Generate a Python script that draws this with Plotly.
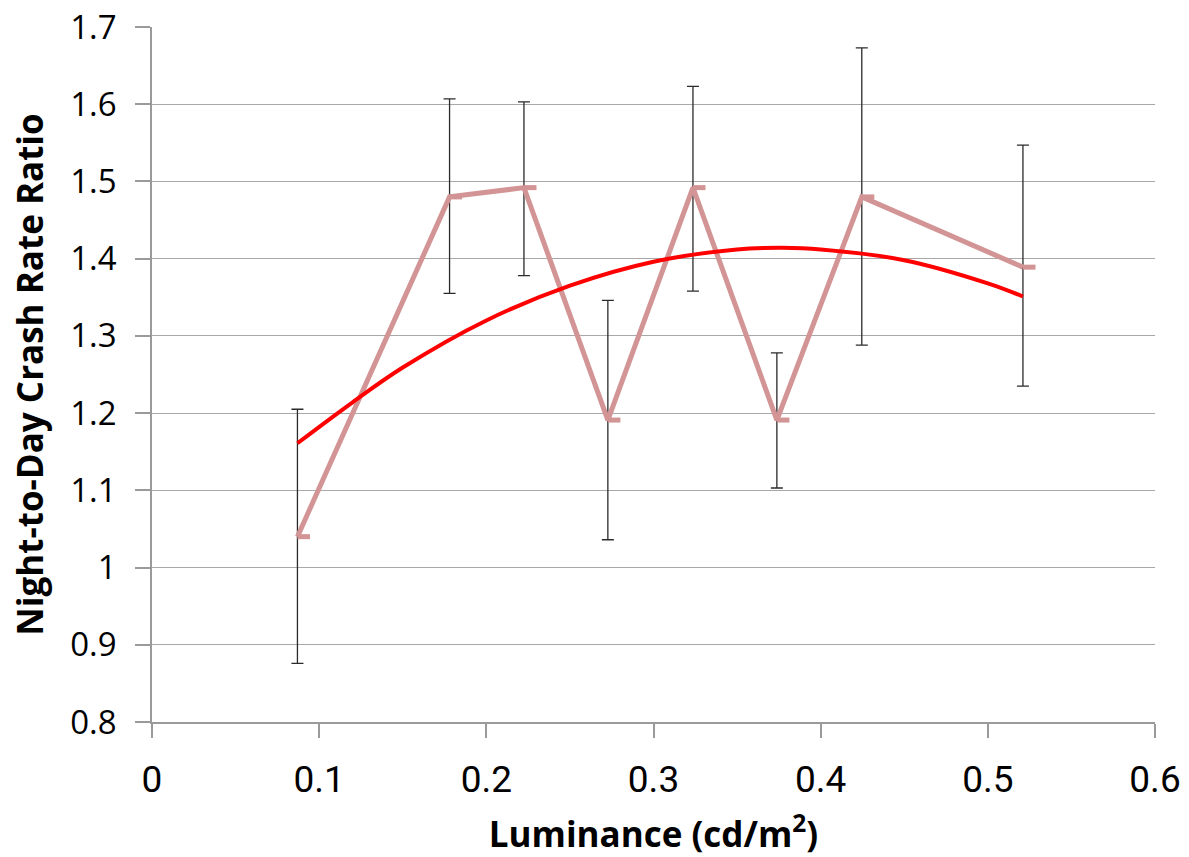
import plotly.graph_objects as go

# Measured night-to-day crash rate ratios by luminance bin
luminance = [0.087, 0.178, 0.2225, 0.2727, 0.3236, 0.3738, 0.4246, 0.521]
ratio = [1.040, 1.480, 1.492, 1.191, 1.492, 1.191, 1.480, 1.389]
ci_upper = [1.205, 1.607, 1.603, 1.346, 1.623, 1.278, 1.673, 1.547]
ci_lower = [0.876, 1.355, 1.378, 1.036, 1.358, 1.103, 1.288, 1.235]

# Polynomial trend curve values
trend_x = [0.087, 0.12, 0.15, 0.2, 0.25, 0.3, 0.35, 0.377, 0.4, 0.45, 0.5, 0.521]
trend_y = [1.161, 1.214, 1.259, 1.320, 1.365, 1.396, 1.412, 1.414, 1.412, 1.398, 1.368, 1.351]

x_ticks = [0, 0.1, 0.2, 0.3, 0.4, 0.5, 0.6]
y_ticks = [0.8, 0.9, 1.0, 1.1, 1.2, 1.3, 1.4, 1.5, 1.6, 1.7]

err_plus = [u - r for u, r in zip(ci_upper, ratio)]
err_minus = [r - l for r, l in zip(ratio, ci_lower)]

PINK = "#D29494"

fig = go.Figure()

fig.add_trace(go.Scatter(
    x=luminance, y=ratio, mode="lines",
    line=dict(color=PINK, width=5),
    error_y=dict(type="data", symmetric=False, array=err_plus, arrayminus=err_minus,
                 color="#2b2b2b", thickness=1.3, width=6),
    error_x=dict(type="data", symmetric=False, array=[0.0075] * len(luminance),
                 arrayminus=[0] * len(luminance), color=PINK, thickness=5, width=0),
    hoverinfo="x+y", showlegend=False,
))

fig.add_trace(go.Scatter(
    x=trend_x, y=trend_y, mode="lines",
    line=dict(color="#FF0000", width=4, shape="spline", smoothing=1.0),
    showlegend=False,
))

fig.update_layout(
    width=1189, height=857,
    margin=dict(l=152, r=34, t=27, b=135),
    paper_bgcolor="white", plot_bgcolor="white",
    font=dict(family="Open Sans, sans-serif", color="black"),
)

fig.update_xaxes(
    range=[0, 0.6], tickvals=x_ticks, ticktext=[f"{v:g}" for v in x_ticks],
    showgrid=False, zeroline=False, automargin=False,
    showline=True, linecolor="#9a9a9a", linewidth=1.5,
    ticks="outside", ticklen=14, tickcolor="#9a9a9a", tickwidth=1.5,
    ticklabelstandoff=10,
    tickfont=dict(family="Roboto, sans-serif", size=37),
    title=dict(text="<b>Luminance (cd/m<sup>2</sup>)</b>", standoff=22,
               font=dict(family="Open Sans, sans-serif", size=35)),
)

fig.update_yaxes(
    range=[0.8, 1.7], tickvals=y_ticks, ticktext=[f"{v:g}" for v in y_ticks],
    showgrid=True, gridcolor="#a8a8a8", gridwidth=1.2, zeroline=False, automargin=False,
    showline=True, linecolor="#9a9a9a", linewidth=1.5,
    ticks="outside", ticklen=15, tickcolor="#9a9a9a", tickwidth=1.5,
    ticklabelstandoff=12,
    tickfont=dict(family="Open Sans, sans-serif", size=33),
    title=dict(text="<b>Night-to-Day Crash Rate Ratio</b>", standoff=16,
               font=dict(family="Open Sans, sans-serif", size=35)),
)

fig.write_html("out.html")
